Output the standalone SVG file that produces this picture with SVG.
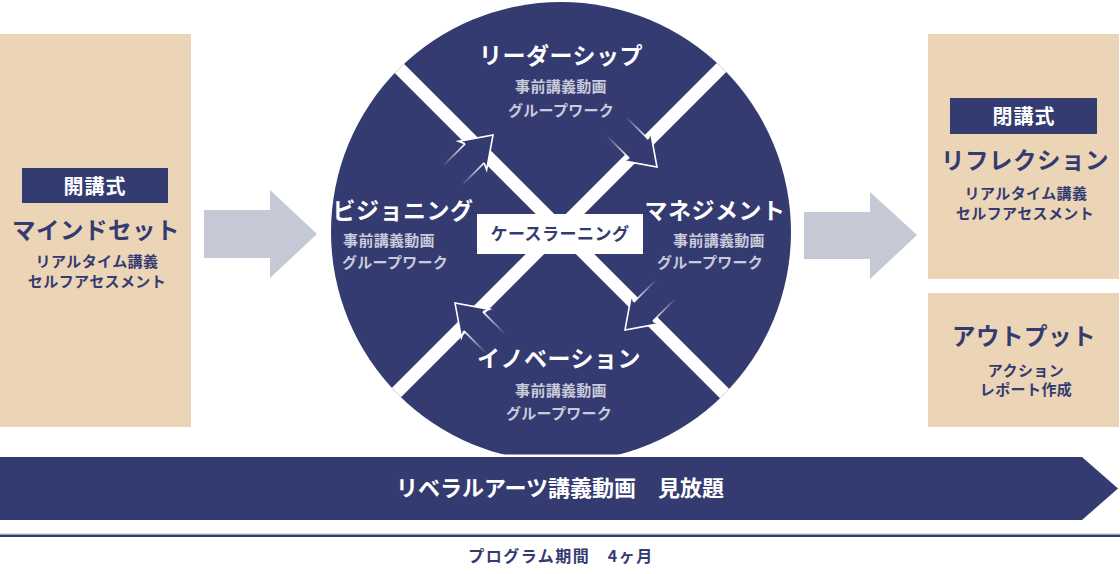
<svg xmlns="http://www.w3.org/2000/svg" width="1120" height="574" viewBox="0 0 1120 574">
<style>
text{font-family:"Noto Sans CJK JP","Noto Sans CJK SC",sans-serif;font-weight:700;text-anchor:middle}
.panel{fill:#ECD5B6}
.tag{fill:#343B71}
.tagt{fill:#fff;font-size:20px;letter-spacing:1px}
.h{fill:#343B71;font-size:23.5px;letter-spacing:0.5px}
.s{fill:#343B71;font-size:15px;letter-spacing:0.4px}
.ch{fill:#fff;font-size:23px;letter-spacing:0.5px}
.cs{fill:#C9CBDA;font-size:15px;letter-spacing:0.3px}
.gray{fill:#C5C8D5}
</style>
<defs>
<clipPath id="cc"><circle cx="561" cy="232" r="230"/></clipPath>
<linearGradient id="tail" gradientUnits="userSpaceOnUse" x1="-26" y1="0" x2="-58" y2="0">
<stop offset="0" stop-color="#fff" stop-opacity="1"/>
<stop offset="1" stop-color="#fff" stop-opacity="0"/>
</linearGradient>
<g id="cyc">
<path d="M-58,-13.5 L-26,-13.5 L-29,-20 L0,0 L-29,20 L-26,13.5 L-58,13.5 Z" fill="#343B71"/>
<path d="M-26,-13.5 L-29,-20 L0,0 L-29,20 L-26,13.5" fill="none" stroke="#fff" stroke-width="1.6" stroke-linejoin="miter"/>
<line x1="-26" y1="-13.5" x2="-58" y2="-13.5" stroke="url(#tail)" stroke-width="1.6"/>
<line x1="-26" y1="13.5" x2="-58" y2="13.5" stroke="url(#tail)" stroke-width="1.6"/>
</g>
</defs>
<rect width="1120" height="574" fill="#fff"/>

<g id="panel-left">
<rect class="panel" x="0" y="34" width="191" height="393"/>
<rect class="tag" x="22" y="168" width="146" height="35"/>
<text class="tagt" x="95" y="194">開講式</text>
<text class="h" x="96" y="239">マインドセット</text>
<text class="s" x="97" y="267">リアルタイム講義</text>
<text class="s" x="97" y="287">セルフアセスメント</text>
</g>

<g id="circle">
<circle cx="561" cy="232" r="230" fill="#343B71"/>
<g clip-path="url(#cc)" stroke="#fff" stroke-width="13">
<line x1="320" y1="-11" x2="800" y2="469"/>
<line x1="800" y1="-11" x2="320" y2="469"/>
</g>
</g>

<g id="connectors">
<polygon class="gray" points="204,210 270,210 270,190 317,234 270,278 270,258 204,258"/>
<polygon class="gray" points="804,212 870,212 870,192 917,235 870,279 870,259 804,259"/>
<use href="#cyc" transform="translate(493,135) rotate(-45)"/>
<use href="#cyc" transform="translate(657,167) rotate(45)"/>
<use href="#cyc" transform="translate(625,330) rotate(135)"/>
<use href="#cyc" transform="translate(455,303) rotate(-135)"/>
</g>

<g id="case-learning">
<rect x="477" y="214" width="166" height="40" fill="#fff"/>
<text x="560" y="240" fill="#343B71" style="font-size:17px;letter-spacing:0.5px">ケースラーニング</text>
</g>

<g id="leadership">
<text class="ch" x="561" y="64">リーダーシップ</text>
<text class="cs" x="561" y="92">事前講義動画</text>
<text class="cs" x="561" y="116">グループワーク</text>
</g>
<g id="visioning">
<text class="ch" x="403" y="219">ビジョニング</text>
<text class="cs" x="389" y="246">事前講義動画</text>
<text class="cs" x="395" y="268">グループワーク</text>
</g>
<g id="management">
<text class="ch" x="715" y="219">マネジメント</text>
<text class="cs" x="719" y="246">事前講義動画</text>
<text class="cs" x="710" y="268">グループワーク</text>
</g>
<g id="innovation">
<text class="ch" x="559" y="367">イノベーション</text>
<text class="cs" x="561" y="396">事前講義動画</text>
<text class="cs" x="559" y="419">グループワーク</text>
</g>

<g id="panel-right-top">
<rect class="panel" x="928" y="34" width="191" height="245"/>
<rect class="tag" x="950" y="98" width="147" height="36"/>
<text class="tagt" x="1024" y="124">閉講式</text>
<text class="h" x="1025" y="169">リフレクション</text>
<text class="s" x="1026" y="199">リアルタイム講義</text>
<text class="s" x="1025" y="219">セルフアセスメント</text>
</g>

<g id="panel-right-bottom">
<rect class="panel" x="928" y="293" width="191" height="134"/>
<text class="h" x="1024" y="345">アウトプット</text>
<text class="s" x="1026" y="376">アクション</text>
<text class="s" x="1026" y="395">レポート作成</text>
</g>

<g id="bar">
<rect x="300" y="454.5" width="520" height="2.5" fill="#fff"/>
<polygon points="0,457 1082,457 1118,488.5 1082,520 0,520" fill="#343B71"/>
<text x="560" y="496" fill="#fff" style="font-size:22px">リベラルアーツ講義動画　見放題</text>
</g>

<g id="period">
<rect x="0" y="533.5" width="1120" height="1.2" fill="#B4B8CE"/>
<rect x="0" y="534.7" width="1120" height="2.3" fill="#343B71"/>
<text x="561" y="562" fill="#343B71" style="font-size:16px;letter-spacing:1.5px">プログラム期間　4ヶ月</text>
</g>
</svg>
